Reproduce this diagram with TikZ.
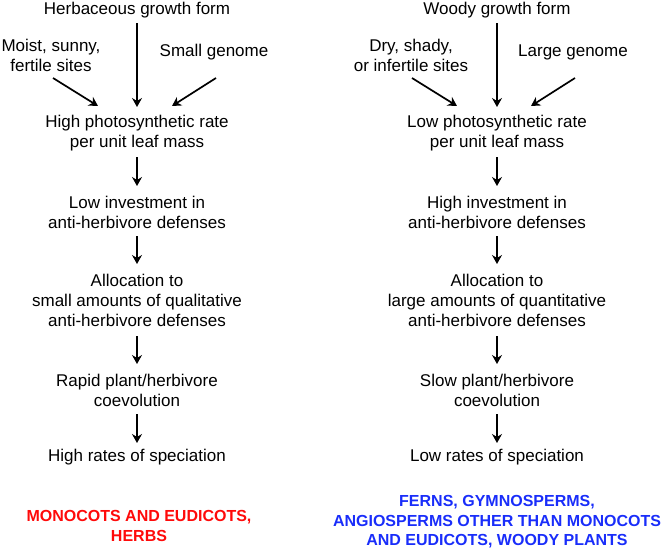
\documentclass[tikz,border=0pt]{standalone}
\usepackage{fontspec}
\setmainfont{Liberation Sans}
\usetikzlibrary{arrows.meta,calc}

\definecolor{herbred}{RGB}{255,10,10}
\definecolor{woodblue}{RGB}{25,45,250}

\tikzset{
  txt/.style={align=center, inner sep=0pt,
    font=\fontsize{17}{20}\selectfont},
  taxa/.style={align=center, inner sep=0pt,
    font=\fontsize{16}{19.5}\selectfont\bfseries},
  arr/.style={line width=1.7pt,
    -{Stealth[length=9pt,width=10pt,inset=3pt]}},
}

\begin{document}
\begin{tikzpicture}[x=1pt,y=-1pt]
\useasboundingbox (0,0) rectangle (666,552);

% ---------- herbaceous column ----------
\node[txt] (hL) at (137,10) {Herbaceous growth form};
\node[txt] (sitesL) at (51,55) {Moist, sunny,\\fertile sites};
\node[txt] (genL) at (214,52) {Small genome};
\node[txt] (photoL) at (137,133) {High photosynthetic rate\\per unit leaf mass};
\node[txt] (investL) at (137,212) {Low investment in\\anti-herbivore defenses};
\node[txt] (allocL) at (137,300) {Allocation to\\small amounts of qualitative\\anti-herbivore defenses};
\node[txt] (coevoL) at (137,390) {Rapid plant/herbivore\\coevolution};
\node[txt] (specL) at (137,457) {High rates of speciation};
\node[taxa, text=herbred] (taxaL) at (139,526) {MONOCOTS AND EUDICOTS,\\HERBS};

% ---------- woody column ----------
\node[txt] (hR) at (497,10) {Woody growth form};
\node[txt] (sitesR) at (411,55) {Dry, shady,\\or infertile sites};
\node[txt] (genR) at (573,52) {Large genome};
\node[txt] (photoR) at (497,133) {Low photosynthetic rate\\per unit leaf mass};
\node[txt] (investR) at (497,212) {High investment in\\anti-herbivore defenses};
\node[txt] (allocR) at (497,300) {Allocation to\\large amounts of quantitative\\anti-herbivore defenses};
\node[txt] (coevoR) at (497,390) {Slow plant/herbivore\\coevolution};
\node[txt] (specR) at (497,457) {Low rates of speciation};
\node[taxa, text=woodblue] (taxaR) at (497,522) {FERNS, GYMNOSPERMS,\\ANGIOSPERMS OTHER THAN MONOCOTS\\AND EUDICOTS, WOODY PLANTS};

% ---------- converging arrows into the photosynthesis nodes ----------
\draw[arr] ($(sitesL.center)+(2,23)$) -- ($(photoL.center)+(-39,-27)$);
\draw[arr] ($(genL.center)+(2,26)$) -- ($(photoL.center)+(35,-27)$);
\draw[arr] (hL.center) [shorten <=13pt, shorten >=26pt] -- (photoL.center);

\draw[arr] ($(sitesR.center)+(1,23)$) -- ($(photoR.center)+(-40,-27)$);
\draw[arr] ($(genR.center)+(2,26)$) -- ($(photoR.center)+(34,-27)$);
\draw[arr] (hR.center) [shorten <=13pt, shorten >=26pt] -- (photoR.center);

% ---------- vertical chains ----------
\foreach \c in {L,R}{
  \draw[arr, shorten <=24pt, shorten >=26pt] (photo\c.center) -- (invest\c.center);
  \draw[arr, shorten <=24pt, shorten >=36pt] (invest\c.center) -- (alloc\c.center);
  \draw[arr, shorten <=36pt, shorten >=26pt] (alloc\c.center) -- (coevo\c.center);
  \draw[arr, shorten <=24pt, shorten >=14pt] (coevo\c.center) -- (spec\c.center);
}
\end{tikzpicture}
\end{document}
